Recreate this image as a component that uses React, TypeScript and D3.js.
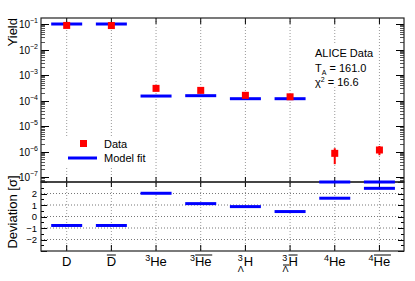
import * as d3 from 'd3';
import React, {useEffect} from 'react';

// particles (index order on the x axis)
const particles = ['D', 'Dbar', '3He', '3Hebar', '3LH', '3LHbar', '4He', '4Hebar'];
// measured yields and their errors
const dataYield = [0.088, 0.087, 3.0e-4, 2.5e-4, 1.6e-4, 1.4e-4, 8.5e-7, 1.15e-6];
const dataLow = [0.082, 0.081, 2.7e-4, 2.25e-4, 1.45e-4, 1.28e-4, 3.2e-7, 7.2e-7];
const dataHigh = [0.094, 0.093, 3.3e-4, 2.75e-4, 1.75e-4, 1.52e-4, 1.35e-6, 1.65e-6];
// thermal model fit
const modelYield = [0.1, 0.1, 1.5e-4, 1.55e-4, 1.18e-4, 1.18e-4, 5e-8, 5e-8];
// deviation in sigma
const deviation = [-0.78, -0.78, 2.02, 1.12, 0.86, 0.43, 1.59, 2.45];
const yieldTicks = [-1, -2, -3, -4, -5, -6, -7];
const devTicks = [2, 1, 0, -1, -2];

const FONT = 'Liberation Sans, Arial, sans-serif';

export default function App() {
  const ref = React.useRef<SVGSVGElement>(null);

  useEffect(() => {
    draw();
  }, []);

  function draw() {
    const svg = d3.select(ref.current);
    svg.selectAll('*').remove();

    const left = 41, right = 404;
    const topY = 18, midY = 182, botY = 251;

    const x = d3.scaleLinear().domain([-0.575, 7.55]).range([left, right]);
    const y = d3.scaleLog().domain([6.4e-8, 0.172]).range([midY, topY]).clamp(true);
    const yd = d3.scaleLinear().domain([-3, 3]).range([botY, midY]);
    const hw = 0.347;

    const g = svg.append('g');

    // white background
    g.append('rect').attr('width', 415).attr('height', 281).attr('fill', '#fff');

    // vertical dotted grid through both panels
    g.selectAll('.vgrid').data(particles).enter().append('line')
      .attr('x1', (d, i) => x(i)).attr('x2', (d, i) => x(i))
      .attr('y1', topY).attr('y2', botY)
      .attr('stroke', '#999').attr('stroke-width', 1).attr('stroke-dasharray', '1,2');

    // horizontal dotted grid in deviation panel
    g.selectAll('.hgrid').data(devTicks).enter().append('line')
      .attr('x1', left).attr('x2', right)
      .attr('y1', d => yd(d)).attr('y2', d => yd(d))
      .attr('stroke', '#777').attr('stroke-width', 1).attr('stroke-dasharray', '1,2');

    // legend + text boxes cover the grid
    g.append('rect').attr('x', 55).attr('y', 136).attr('width', 100).attr('height', 30).attr('fill', '#fff');
    g.append('rect').attr('x', 312).attr('y', 45).attr('width', 62).attr('height', 42).attr('fill', '#fff');

    // log ticks top panel (both sides)
    const minors: number[] = [];
    for (let e = -8; e <= -1; e++) {
      for (let m = 2; m <= 9; m++) {
        const v = m * Math.pow(10, e);
        if (v >= 6.4e-8 && v <= 0.172) minors.push(v);
      }
    }
    const tk = g.append('g').attr('stroke', '#000').attr('stroke-width', 1);
    yieldTicks.forEach(e => {
      const yy = Math.round(y(Math.pow(10, e))) + 0.5;
      tk.append('line').attr('x1', left).attr('x2', left + 8).attr('y1', yy).attr('y2', yy);
      tk.append('line').attr('x1', right - 8).attr('x2', right).attr('y1', yy).attr('y2', yy);
    });
    minors.forEach(v => {
      const yy = Math.round(y(v)) + 0.5;
      tk.append('line').attr('x1', left).attr('x2', left + 4).attr('y1', yy).attr('y2', yy).attr('stroke', '#555');
      tk.append('line').attr('x1', right - 4).attr('x2', right).attr('y1', yy).attr('y2', yy).attr('stroke', '#555');
    });
    // deviation ticks
    d3.range(-3, 3.01, 0.5).forEach(v => {
      const yy = Math.round(yd(v)) + 0.5;
      const len = Number.isInteger(v) ? 6 : 3;
      tk.append('line').attr('x1', left).attr('x2', left + len).attr('y1', yy).attr('y2', yy);
      tk.append('line').attr('x1', right - len).attr('x2', right).attr('y1', yy).attr('y2', yy);
    });
    // x ticks
    particles.forEach((p, i) => {
      tk.append('line').attr('x1', x(i)).attr('x2', x(i)).attr('y1', topY).attr('y2', topY + 6);
      tk.append('line').attr('x1', x(i)).attr('x2', x(i)).attr('y1', botY - 6).attr('y2', botY);
      tk.append('line').attr('x1', x(i)).attr('x2', x(i)).attr('y1', midY - 5).attr('y2', midY + 5);
    });

    // frames
    g.append('rect').attr('x', left).attr('y', topY).attr('width', right - left).attr('height', midY - topY)
      .attr('fill', 'none').attr('stroke', '#222').attr('stroke-width', 1.2);
    g.append('rect').attr('x', left).attr('y', midY).attr('width', right - left).attr('height', botY - midY)
      .attr('fill', 'none').attr('stroke', '#222').attr('stroke-width', 1.2);

    // model fit lines
    g.selectAll('.model').data(modelYield).enter().append('line')
      .attr('x1', (d, i) => x(i - hw)).attr('x2', (d, i) => x(i + hw))
      .attr('y1', d => y(d)).attr('y2', d => y(d))
      .attr('stroke', '#0000ff').attr('stroke-width', 3);

    // data error bars + squares
    g.selectAll('.err').data(dataYield).enter().append('line')
      .attr('x1', (d, i) => x(i)).attr('x2', (d, i) => x(i))
      .attr('y1', (d, i) => y(dataLow[i])).attr('y2', (d, i) => y(dataHigh[i]))
      .attr('stroke', '#ff0000').attr('stroke-width', 2);
    g.selectAll('.pt').data(dataYield).enter().append('rect')
      .attr('x', (d, i) => x(i) - 3.5).attr('y', d => y(d) - 3.5)
      .attr('width', 7).attr('height', 7).attr('fill', '#ff0000');

    // deviations
    g.selectAll('.dev').data(deviation).enter().append('line')
      .attr('x1', (d, i) => x(i - hw)).attr('x2', (d, i) => x(i + hw))
      .attr('y1', d => yd(d)).attr('y2', d => yd(d))
      .attr('stroke', '#0000ff').attr('stroke-width', 3);

    // y tick labels (top)
    yieldTicks.forEach(e => {
      const t = g.append('text').attr('x', 38).attr('y', y(Math.pow(10, e)) + 4)
        .attr('text-anchor', 'end').attr('font-family', FONT).attr('font-size', 10).attr('fill', '#000');
      t.append('tspan').text('10');
      t.append('tspan').attr('dy', -5).attr('font-size', 7).text('\u2212' + (-e));
    });
    // deviation tick labels
    devTicks.forEach(v => {
      g.append('text').attr('x', 37).attr('y', yd(v) + 3.5)
        .attr('text-anchor', 'end').attr('font-family', FONT).attr('font-size', 9.5)
        .text(v < 0 ? '\u2212' + (-v) : String(v));
    });

    // axis titles
    g.append('text').attr('transform', `translate(17,${topY}) rotate(-90)`)
      .attr('text-anchor', 'end').attr('font-family', FONT).attr('font-size', 13).text('Yield');
    g.append('text').attr('transform', `translate(17,212) rotate(-90)`)
      .attr('text-anchor', 'middle').attr('font-family', FONT).attr('font-size', 13).text('Deviation [\u03c3]');

    // x labels
    const lbY = 266;
    const lab = (i: number) => g.append('text').attr('x', x(i)).attr('y', lbY)
      .attr('text-anchor', 'middle').attr('font-family', FONT).attr('font-size', 13);
    const over = (xx: number, w: number, yy: number) =>
      g.append('line').attr('x1', xx - w / 2).attr('x2', xx + w / 2).attr('y1', yy).attr('y2', yy)
        .attr('stroke', '#000').attr('stroke-width', 1);

    lab(0).text('D');
    lab(1).text('D');
    over(x(1), 9, lbY - 11);

    [2, 3, 6, 7].forEach(i => {
      const t = lab(i);
      t.append('tspan').attr('font-size', 9).attr('dy', -5).text(particles[i][0]);
      t.append('tspan').attr('dy', 5).text('He');
      if (particles[i].endsWith('bar')) over(x(i) + 3, 17, lbY - 11);
    });

    // hypertriton: superscript 3 and subscript Lambda stacked before H
    [4, 5].forEach(i => {
      const t = lab(i);
      t.append('tspan').attr('font-size', 9).attr('dy', -5).text('3');
      t.append('tspan').attr('font-size', 9).attr('dx', -5).attr('dy', 11).text('\u039b');
      t.append('tspan').attr('dy', -6).text('H');
      if (particles[i].endsWith('bar')) {
        over(x(i) + 3, 9, lbY - 11);
        over(x(i) - 4, 6, lbY - 1);
      }
    });

    // legend
    g.append('rect').attr('x', 80).attr('y', 140).attr('width', 7).attr('height', 7).attr('fill', '#ff0000');
    g.append('text').attr('x', 104).attr('y', 147.5).attr('font-family', FONT).attr('font-size', 11).text('Data');
    g.append('line').attr('x1', 68).attr('x2', 97).attr('y1', 158).attr('y2', 158)
      .attr('stroke', '#0000ff').attr('stroke-width', 3);
    g.append('text').attr('x', 104).attr('y', 162).attr('font-family', FONT).attr('font-size', 11).text('Model fit');

    // info text
    g.append('text').attr('x', 315).attr('y', 57).attr('font-family', FONT).attr('font-size', 11).text('ALICE Data');
    const ta = g.append('text').attr('x', 315).attr('y', 72).attr('font-family', FONT).attr('font-size', 11);
    ta.append('tspan').text('T');
    ta.append('tspan').attr('dy', 3).attr('font-size', 7).text('A');
    ta.append('tspan').attr('dy', -3).text(' = 161.0');
    const ch = g.append('text').attr('x', 315).attr('y', 86).attr('font-family', FONT).attr('font-size', 11);
    ch.append('tspan').text('\u03c7');
    ch.append('tspan').attr('dy', -4).attr('font-size', 7).text('2');
    ch.append('tspan').attr('dy', 4).text(' = 16.6');
  }

  return (
    <svg ref={ref} width={415} height={281}
      style={{position: 'absolute', left: 0, top: 0, display: 'block'}}></svg>
  );
}
